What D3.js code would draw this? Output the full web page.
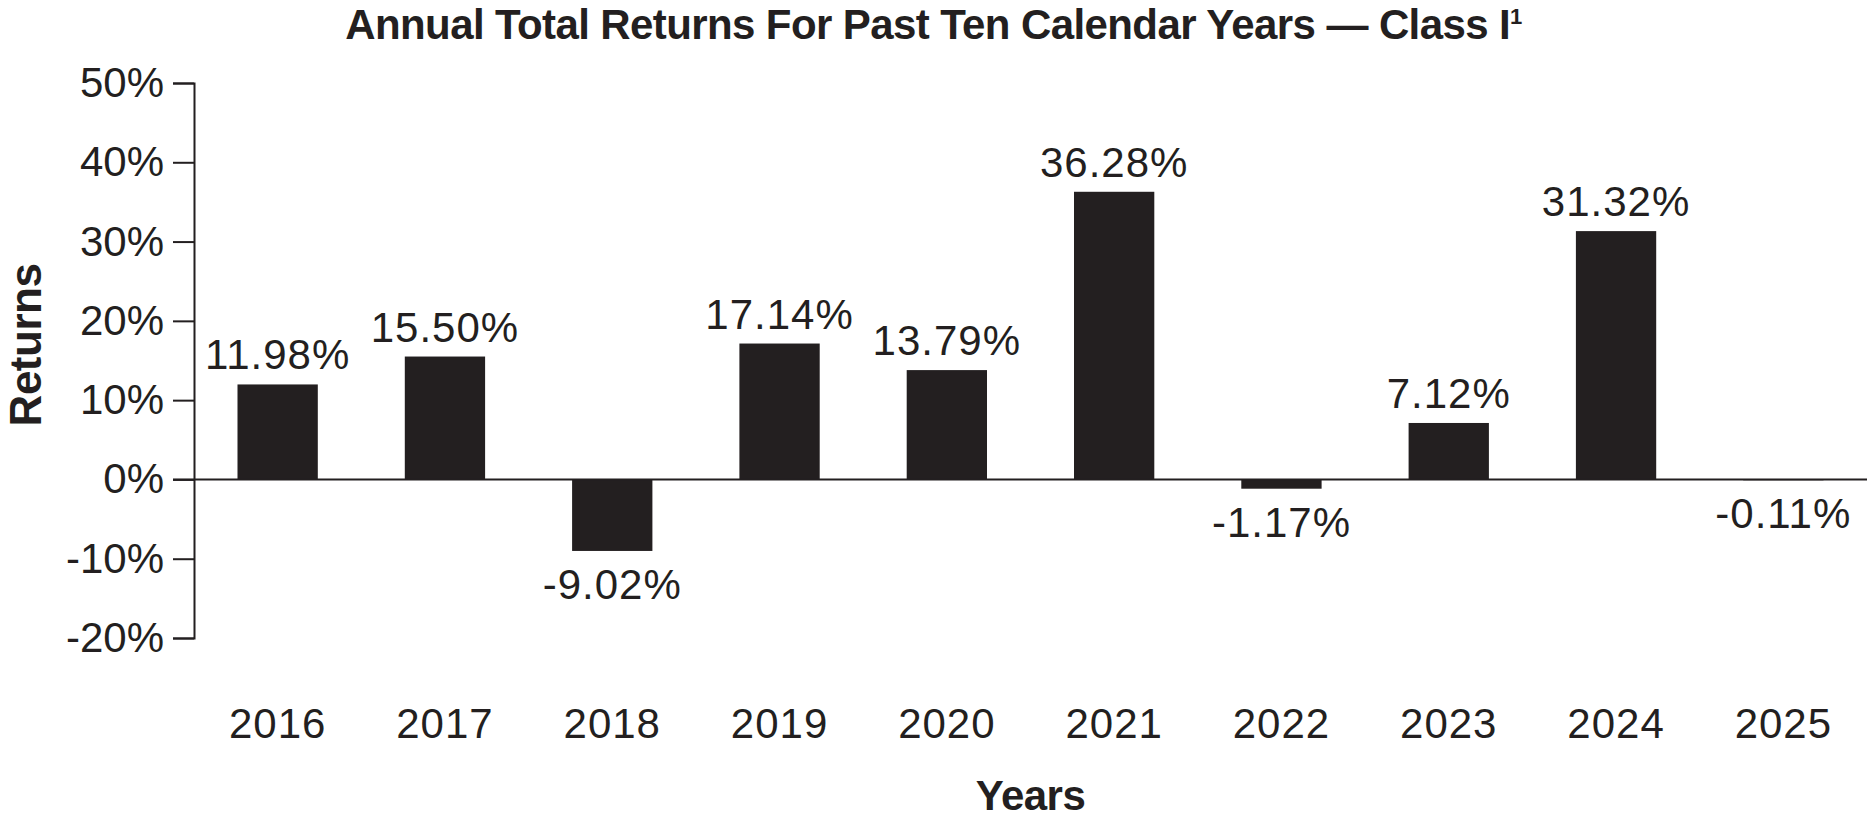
<!DOCTYPE html>
<html>
<head>
<meta charset="utf-8">
<script src="https://cdn.jsdelivr.net/npm/d3@7"></script>
<style>
  html, body { margin: 0; padding: 0; background: #fff; }
  svg { display: block; font-family: "Liberation Sans", Arial, Helvetica, sans-serif; }
</style>
</head>
<body>
<svg id="chart" width="1867" height="820"></svg>
<script>
const years = ['2016', '2017', '2018', '2019', '2020', '2021', '2022', '2023', '2024', '2025'];
const returns = [11.98, 15.5, -9.02, 17.14, 13.79, 36.28, -1.17, 7.12, 31.32, -0.11];
const yTicks = [50, 40, 30, 20, 10, 0, -10, -20];

const ink = '#231f20';
const svg = d3.select('#chart');
const width = +svg.attr('width');
const height = +svg.attr('height');

const margin = { top: 83, right: 0, bottom: 182, left: 194 };

const x = d3.scaleBand()
  .domain(years)
  .range([margin.left, width - margin.right])
  .paddingInner(0.52)
  .paddingOuter(0.26);

const y = d3.scaleLinear()
  .domain([-20, 50])
  .range([height - margin.bottom, margin.top]);

// title
const title = svg.append('text')
  .attr('x', width / 2)
  .attr('y', 39)
  .attr('text-anchor', 'middle')
  .attr('font-size', 42)
  .attr('font-weight', 'bold')
  .attr('letter-spacing', -0.6)
  .attr('fill', ink)
  .text('Annual Total Returns For Past Ten Calendar Years \u2014 Class I');
title.append('tspan')
  .attr('font-size', 22)
  .attr('dy', -15)
  .text('1');

// y axis
const yAxis = svg.append('g')
  .attr('transform', `translate(${margin.left},0)`)
  .call(d3.axisLeft(y).tickValues(yTicks).tickSize(21).tickPadding(9).tickFormat(d => d + '%'));
yAxis.select('.domain').attr('stroke', ink).attr('stroke-width', 2);
yAxis.selectAll('.tick line').attr('stroke', ink).attr('stroke-width', 2);
yAxis.selectAll('.tick text')
  .attr('font-size', 42)
  .attr('fill', ink)
  .attr('font-family', null);

// bars
svg.append('g')
  .selectAll('rect')
  .data(returns)
  .join('rect')
  .attr('x', (d, i) => x(years[i]))
  .attr('width', x.bandwidth())
  .attr('y', d => y(Math.max(0, d)))
  .attr('height', d => Math.abs(y(d) - y(0)))
  .attr('fill', ink);

// zero line
svg.append('line')
  .attr('x1', margin.left - 21)
  .attr('x2', width)
  .attr('y1', y(0))
  .attr('y2', y(0))
  .attr('stroke', ink)
  .attr('stroke-width', 2);

// value labels
svg.append('g')
  .selectAll('text')
  .data(returns)
  .join('text')
  .attr('x', (d, i) => x(years[i]) + x.bandwidth() / 2)
  .attr('y', d => d >= 0 ? y(d) - 15 : y(d) + 48)
  .attr('text-anchor', 'middle')
  .attr('font-size', 42)
  .attr('letter-spacing', 1)
  .attr('fill', ink)
  .text(d => d.toFixed(2) + '%');

// x axis (labels only)
const xAxis = svg.append('g')
  .attr('transform', `translate(0,738)`)
  .call(d3.axisBottom(x).tickSize(0).tickPadding(0));
xAxis.select('.domain').remove();
xAxis.selectAll('.tick text')
  .attr('y', 0)
  .attr('dy', 0)
  .attr('font-size', 42)
  .attr('letter-spacing', 1)
  .attr('fill', ink)
  .attr('font-family', null);

// axis titles
svg.append('text')
  .attr('transform', `translate(41,345) rotate(-90)`)
  .attr('text-anchor', 'middle')
  .attr('font-size', 44)
  .attr('font-weight', 'bold')
  .attr('letter-spacing', -0.5)
  .attr('fill', ink)
  .text('Returns');

svg.append('text')
  .attr('x', (x(years[0]) + x(years[9]) + x.bandwidth()) / 2)
  .attr('y', 810)
  .attr('text-anchor', 'middle')
  .attr('font-size', 42)
  .attr('font-weight', 'bold')
  .attr('letter-spacing', -0.5)
  .attr('fill', ink)
  .text('Years');
</script>
</body>
</html>
